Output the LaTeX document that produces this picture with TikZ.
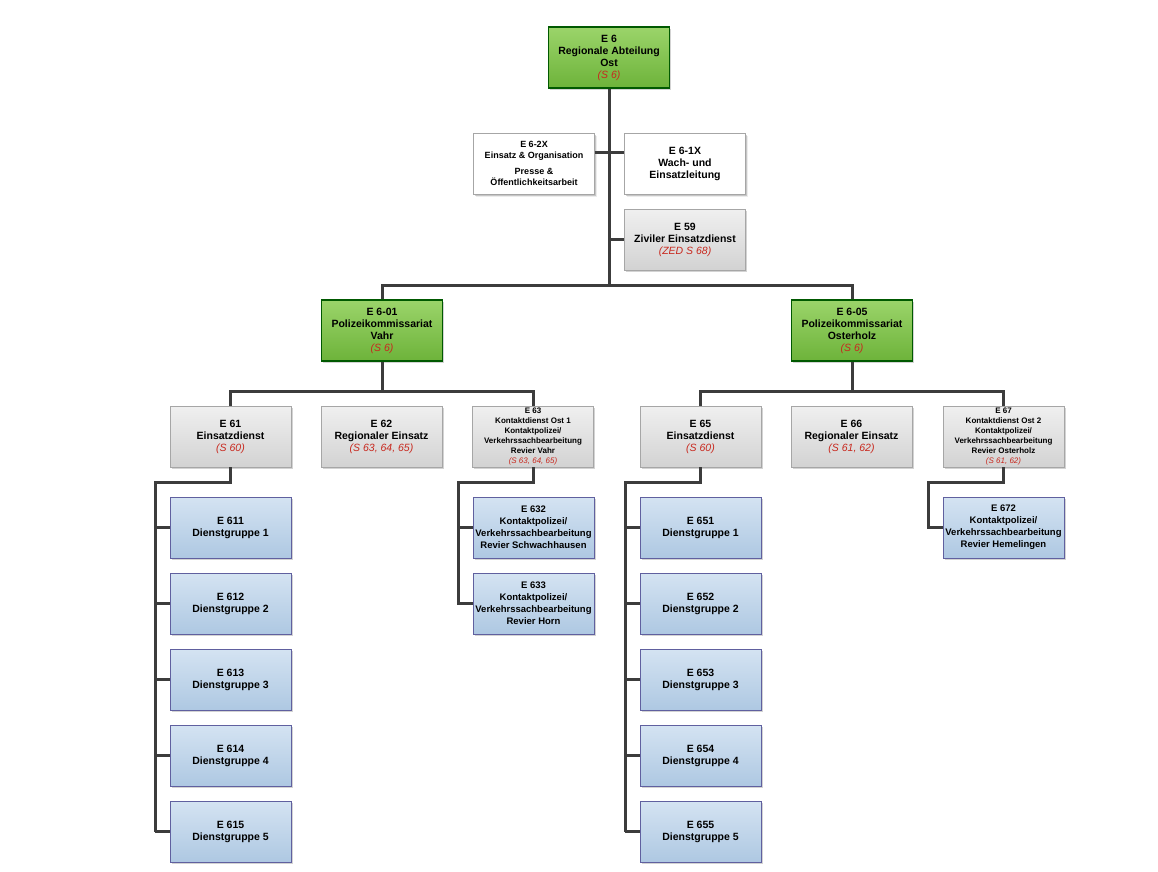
\documentclass[tikz,border=0pt]{standalone}
\usepackage{fontspec}
\setmainfont{Liberation Sans}
\usetikzlibrary{positioning,shadows}
\definecolor{linegray}{HTML}{3C3C3C}
\definecolor{redtext}{HTML}{C8281E}
\definecolor{greentop}{HTML}{9BD46A}
\definecolor{greenbot}{HTML}{6DB33A}
\definecolor{bluetop}{HTML}{D4E3F2}
\definecolor{bluebot}{HTML}{AEC8E2}
\tikzset{
  unit/.style={draw=gray!70, minimum width=121pt, minimum height=61pt, inner sep=1pt,
    align=center, font=\bfseries\fontsize{10.5}{12}\selectfont, drop shadow={opacity=0.35, shadow xshift=1.5pt, shadow yshift=-1.5pt}},
  greenunit/.style={unit, draw=green!35!black, line width=1.2pt, top color=greentop, bottom color=greenbot},
  whiteunit/.style={unit, fill=white, drop shadow={opacity=0.15}},
  grayunit/.style={unit, top color=gray!12, bottom color=gray!35},
  blueunit/.style={unit, draw=gray!75!blue, top color=bluetop, bottom color=bluebot},
  smallunit/.style={font=\bfseries\fontsize{8}{10}\selectfont},
  conn/.style={draw=linegray, line width=3pt},
}
\newcommand{\sref}[1]{\\\textcolor{redtext}{\normalfont\itshape #1}}
\begin{document}
\begin{tikzpicture}[x=1pt,y=-1pt]
\useasboundingbox (0,0) rectangle (1158,871);
% top
\node[greenunit] (e6) at (609,57.5) {E 6\\Regionale Abteilung\\Ost\sref{(S 6)}};
\node[whiteunit, font=\bfseries\fontsize{9}{11}\selectfont] (e62x) at (534,163.5) {E 6-2X\\Einsatz \& Organisation\\[5pt]Presse \&\\Öffentlichkeitsarbeit};
\node[whiteunit] (e61x) at (685,163.5) {E 6-1X\\Wach- und\\Einsatzleitung};
\node[grayunit] (e59) at (685,239.5) {E 59\\Ziviler Einsatzdienst\sref{(ZED S 68)}};
% commissariats
\node[greenunit] (e601) at (382,330.5) {E 6-01\\Polizeikommissariat\\Vahr\sref{(S 6)}};
\node[greenunit] (e605) at (852,330.5) {E 6-05\\Polizeikommissariat\\Osterholz\sref{(S 6)}};
% third row
\node[grayunit] (e61) at (230.5,436.5) {E 61\\Einsatzdienst\sref{(S 60)}};
\node[grayunit] (e62) at (381.5,436.5) {E 62\\Regionaler Einsatz\sref{(S 63, 64, 65)}};
\node[grayunit, smallunit] (e63) at (533,436.5) {E 63\\Kontaktdienst Ost 1\\Kontaktpolizei/\\Verkehrssachbearbeitung\\Revier Vahr\sref{(S 63, 64, 65)}};
\node[grayunit] (e65) at (700.5,436.5) {E 65\\Einsatzdienst\sref{(S 60)}};
\node[grayunit] (e66) at (851.5,436.5) {E 66\\Regionaler Einsatz\sref{(S 61, 62)}};
\node[grayunit, smallunit] (e67) at (1003.5,436.5) {E 67\\Kontaktdienst Ost 2\\Kontaktpolizei/\\Verkehrssachbearbeitung\\Revier Osterholz\sref{(S 61, 62)}};
% service groups
\foreach \i/\y in {1/527.5,2/603.5,3/679.5,4/755.5,5/831.5}{
  \node[blueunit] (e61\i) at (230.5,\y) {E 61\i\\Dienstgruppe \i};
  \node[blueunit] (e65\i) at (700.5,\y) {E 65\i\\Dienstgruppe \i};
}
\node[blueunit, font=\bfseries\fontsize{9.5}{12}\selectfont] (e632) at (533.5,527.5) {E 632\\Kontaktpolizei/\\Verkehrssachbearbeitung\\Revier Schwachhausen};
\node[blueunit, font=\bfseries\fontsize{9.5}{12}\selectfont] (e633) at (533.5,603.5) {E 633\\Kontaktpolizei/\\Verkehrssachbearbeitung\\Revier Horn};
\node[blueunit, font=\bfseries\fontsize{9.5}{12}\selectfont] (e672) at (1003.5,527.5) {E 672\\Kontaktpolizei/\\Verkehrssachbearbeitung\\Revier Hemelingen};
% connectors
\coordinate (hub) at (609,285);
\draw[conn] (e6.south) -- (hub);
\draw[conn] (e62x.east |- 0,152) -- (e61x.west |- 0,152);
\draw[conn] (609,239.5) -- (e59.west);
\draw[conn] (e601.north) |- (hub) -| (e605.north);
\draw[conn] (e61.north) |- (e601.south |- 0,391) -| (e63.north);
\draw[conn] (e601.south) -- (e601.south |- 0,391);
\draw[conn] (e65.north) |- (e605.south |- 0,391) -| (e67.north);
\draw[conn] (e605.south) -- (e605.south |- 0,391);
\draw[conn] (e61.south) |- (155,482) -- (155,831.5);
\draw[conn] (e65.south) |- (625,482) -- (625,831.5);
\foreach \i/\y in {1/527.5,2/603.5,3/679.5,4/755.5,5/831.5}{
  \draw[conn] (155,\y) -- (e61\i.west);
  \draw[conn] (625,\y) -- (e65\i.west);
}
\draw[conn] (e63.south) |- (458,482) |- (e633.west);
\draw[conn] (458,527.5) -- (e632.west);
\draw[conn] (e67.south) |- (928,482) |- (e672.west);
\end{tikzpicture}
\end{document}
